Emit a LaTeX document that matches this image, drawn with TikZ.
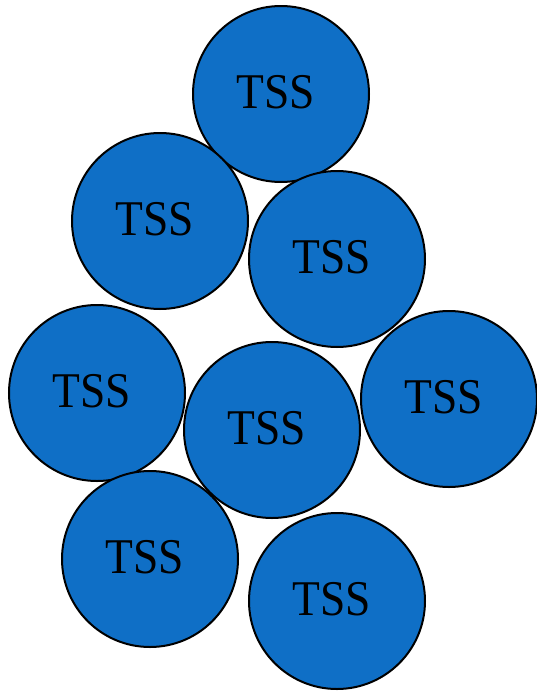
\documentclass[tikz,border=0pt]{standalone}
\usepackage{fontspec}
\setmainfont{Liberation Serif}
\newfontfamily\tssfont[FakeStretch=0.91]{Liberation Serif}
\definecolor{tssblue}{RGB}{15,111,198}
\begin{document}
\begin{tikzpicture}[x=1pt,y=-1pt,
  tss/.style={circle,draw=black,line width=2pt,fill=tssblue,minimum size=176pt,inner sep=0pt},
  lbl/.style={font=\tssfont\fontsize{50}{53}\selectfont,text=black,xshift=-5.5pt,yshift=1.5pt}]
\useasboundingbox[fill=white] (0,0) rectangle (537,691);
\foreach \n/\x/\y in {a/281/94, b/160/221, c/337/259, d/97/393, e/272/430, f/449/399, g/150/559, h/337/601}{
  \node[tss] (\n) at (\x,\y) {};
  \node[lbl] (\n t) at (\n) {TSS};
}
\end{tikzpicture}
\end{document}
